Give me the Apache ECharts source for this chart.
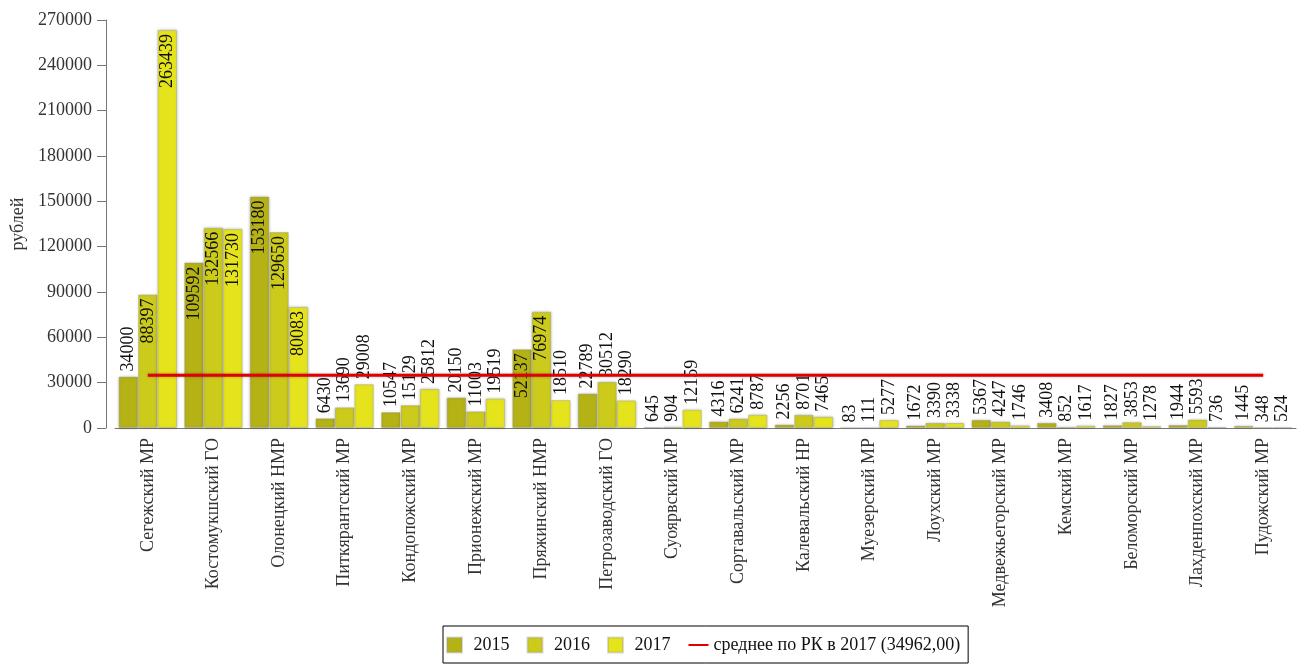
<!DOCTYPE html>
<html>
<head>
<meta charset="utf-8">
<script src="https://cdn.jsdelivr.net/npm/echarts@6/dist/echarts.min.js"></script>
<style>html,body{margin:0;padding:0;background:#fff}#c{width:1304px;height:664px}</style>
</head>
<body>
<div id="c"></div>
<script>
const categories = ["Сегежский МР","Костомукшский ГО","Олонецкий НМР","Питкярантский МР","Кондопожский МР","Прионежский МР","Пряжинский НМР","Петрозаводский ГО","Суоярвский МР","Сортавальский МР","Калевальский НР","Муезерский МР","Лоухский МР","Медвежьегорский МР","Кемский МР","Беломорский МР","Лахденпохский МР","Пудожский МР"];
const values2015 = [34000,109592,153180,6430,10547,20150,52137,22789,645,4316,2256,83,1672,5367,3408,1827,1944,1445];
const values2016 = [88397,132566,129650,13690,15129,11003,76974,30512,904,6241,8701,111,3390,4247,852,3853,5593,348];
const values2017 = [263439,131730,80083,29008,25812,19519,18510,18290,12159,8787,7465,5277,3338,1746,1617,1278,736,524];
const avg2017 = 34962;
const avgName = "среднее по РК в 2017 (34962,00)";
const yTicks = {min:0, max:270000, interval:30000};

const font = "'Liberation Serif','DejaVu Serif',serif";
const colors = ['#b4b214','#cccb1b','#e5e41c'];
const squareIcon = 'path://M0,0h10v10h-10z';

function barData(arr){
  return arr.map(v => {
    const inside = v >= 50000;
    return {
      value: v,
      label: inside
        ? {position:'insideTop', align:'right', verticalAlign:'middle', distance:4}
        : {position:'top', align:'left', verticalAlign:'middle', distance:5}
    };
  });
}
function barSeries(name, arr, color){
  return {
    name, type:'bar', data: barData(arr), barGap:'0%', barCategoryGap:'11%',
    itemStyle:{color, borderColor:'rgba(150,150,150,0.35)', borderWidth:1,
      shadowBlur:3, shadowColor:'rgba(0,0,0,0.25)'},
    label:{show:true, rotate:90, color:'#111', fontFamily:font, fontSize:18},
    emphasis:{disabled:true}
  };
}

const chart = echarts.init(document.getElementById('c'), null, {renderer:'canvas'});
chart.setOption({
  animation:false,
  color: colors.concat(['#e00000']),
  grid:{left:115, right:8, top:20, bottom:236, containLabel:false},
  legend:{
    left:443, top:626, orient:'horizontal',
    borderColor:'#000', borderWidth:1, padding:[10,8,9,3],
    itemWidth:20, itemHeight:15, itemGap:17, symbolKeepAspect:true,
    textStyle:{fontFamily:font, fontSize:18, color:'#111', padding:[0,0,0,4]},
    data:[{name:'2015',icon:squareIcon},{name:'2016',icon:squareIcon},{name:'2017',icon:squareIcon},
          {name:avgName, itemStyle:{opacity:0}, textStyle:{padding:[0,0,0,0]}}]
  },
  xAxis:{
    type:'category', data:categories,
    axisLine:{lineStyle:{color:'#777'}},
    axisTick:{alignWithLabel:true, length:6, lineStyle:{color:'#777'}},
    axisLabel:{rotate:90, interval:0, fontFamily:font, fontSize:18, color:'#333', margin:10}
  },
  yAxis:{
    type:'value', min:yTicks.min, max:yTicks.max, interval:yTicks.interval,
    offset:9,
    name:'рублей', nameLocation:'middle', nameGap:75,
    nameTextStyle:{fontFamily:font, fontSize:18, color:'#333'},
    axisLine:{show:true, lineStyle:{color:'#777'}},
    axisTick:{show:true, length:9, lineStyle:{color:'#777'}},
    splitLine:{show:false},
    axisLabel:{fontFamily:font, fontSize:18, color:'#333', margin:14, formatter: v => String(v)}
  },
  series:[
    barSeries('2015', values2015, colors[0]),
    barSeries('2016', values2016, colors[1]),
    barSeries('2017', values2017, colors[2]),
    {
      name:avgName, type:'line', data: categories.map(() => avg2017),
      symbol:'none', z:5,
      lineStyle:{color:'#e00000', width:3, shadowBlur:3, shadowColor:'rgba(0,0,0,0.3)'},
      itemStyle:{color:'#e00000'},
      emphasis:{disabled:true}
    }
  ]
});
</script>
</body>
</html>
